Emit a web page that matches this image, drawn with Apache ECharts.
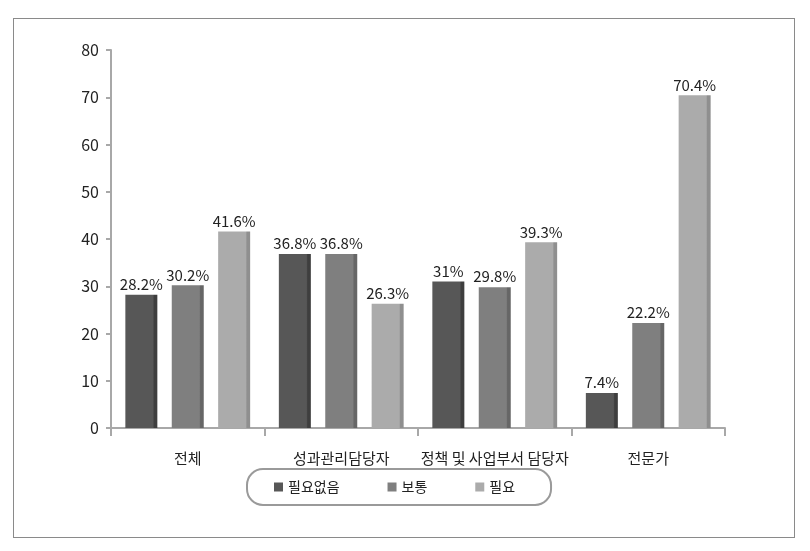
<!DOCTYPE html>
<html><head><meta charset="utf-8">
<script src="https://cdn.jsdelivr.net/npm/echarts@6/dist/echarts.min.js"></script>
<style>html,body{margin:0;padding:0;background:#fff}#c{width:810px;height:551px}
#frame{position:absolute;left:13px;top:18px;width:780px;height:518px;border:1px solid #8a8a8a;pointer-events:none}</style>
</head><body><div id="c"></div><div id="frame"></div>
<script>
const categories = ['전체', '성과관리담당자', '정책 및 사업부서 담당자', '전문가'];
const seriesNames = ['필요없음', '보통', '필요'];
const noNeed = [28.2, 36.8, 31, 7.4];
const normal = [30.2, 36.8, 29.8, 22.2];
const need = [41.6, 26.3, 39.3, 70.4];
const yTicks = [0, 10, 20, 30, 40, 50, 60, 70, 80];

const font = "'Noto Sans CJK KR', 'Noto Sans', sans-serif";
const colors = ['#575757', '#7f7f7f', '#ababab'];
const edges = ['#3e3e3e', '#666666', '#8f8f8f'];
function grad(i){
  return new echarts.graphic.LinearGradient(0,0,1,0,[
    {offset:0,color:colors[i]},{offset:0.86,color:colors[i]},
    {offset:0.9,color:edges[i]},{offset:1,color:edges[i]}]);
}
const values = [noNeed, normal, need];
const chart = echarts.init(document.getElementById('c'));
chart.setOption({
  animation:false,
  textStyle:{fontFamily:font},
  grid:{left:111,right:85,top:50,bottom:123},
  legend:{
    data:seriesNames.map((n,i)=>({name:n,itemStyle:{color:colors[i]}})),
    left:247, top:469, icon:'rect', itemWidth:9, itemHeight:9, itemGap:48,
    padding:[11,36,11,27], borderColor:'#9a9a9a', borderWidth:2, borderRadius:16,
    textStyle:{fontFamily:font,fontSize:14,color:'#222'}
  },
  xAxis:{type:'category',data:categories,
    axisLine:{lineStyle:{color:'#a8a8a8',width:2}},
    axisTick:{show:true,length:8,lineStyle:{color:'#a8a8a8',width:2}},
    axisLabel:{fontFamily:font,fontSize:15,color:'#222',margin:23,interval:0}
  },
  yAxis:{type:'value',min:yTicks[0],max:yTicks[yTicks.length-1],interval:10,
    axisLine:{show:true,lineStyle:{color:'#a8a8a8',width:2}},
    axisTick:{show:true,length:5,lineStyle:{color:'#a8a8a8',width:2}},
    splitLine:{show:false},
    axisLabel:{fontFamily:font,fontSize:16,color:'#222',margin:12}
  },
  series: seriesNames.map((n,i)=>({
    name:n,type:'bar',data:values[i],barWidth:32,barGap:'45%',
    itemStyle:{color:grad(i)},
    label:{show:true,position:'top',distance:3,formatter:p=>p.value+'%',
      fontFamily:font,fontSize:15,color:'#222'}
  }))
});
</script></body></html>
